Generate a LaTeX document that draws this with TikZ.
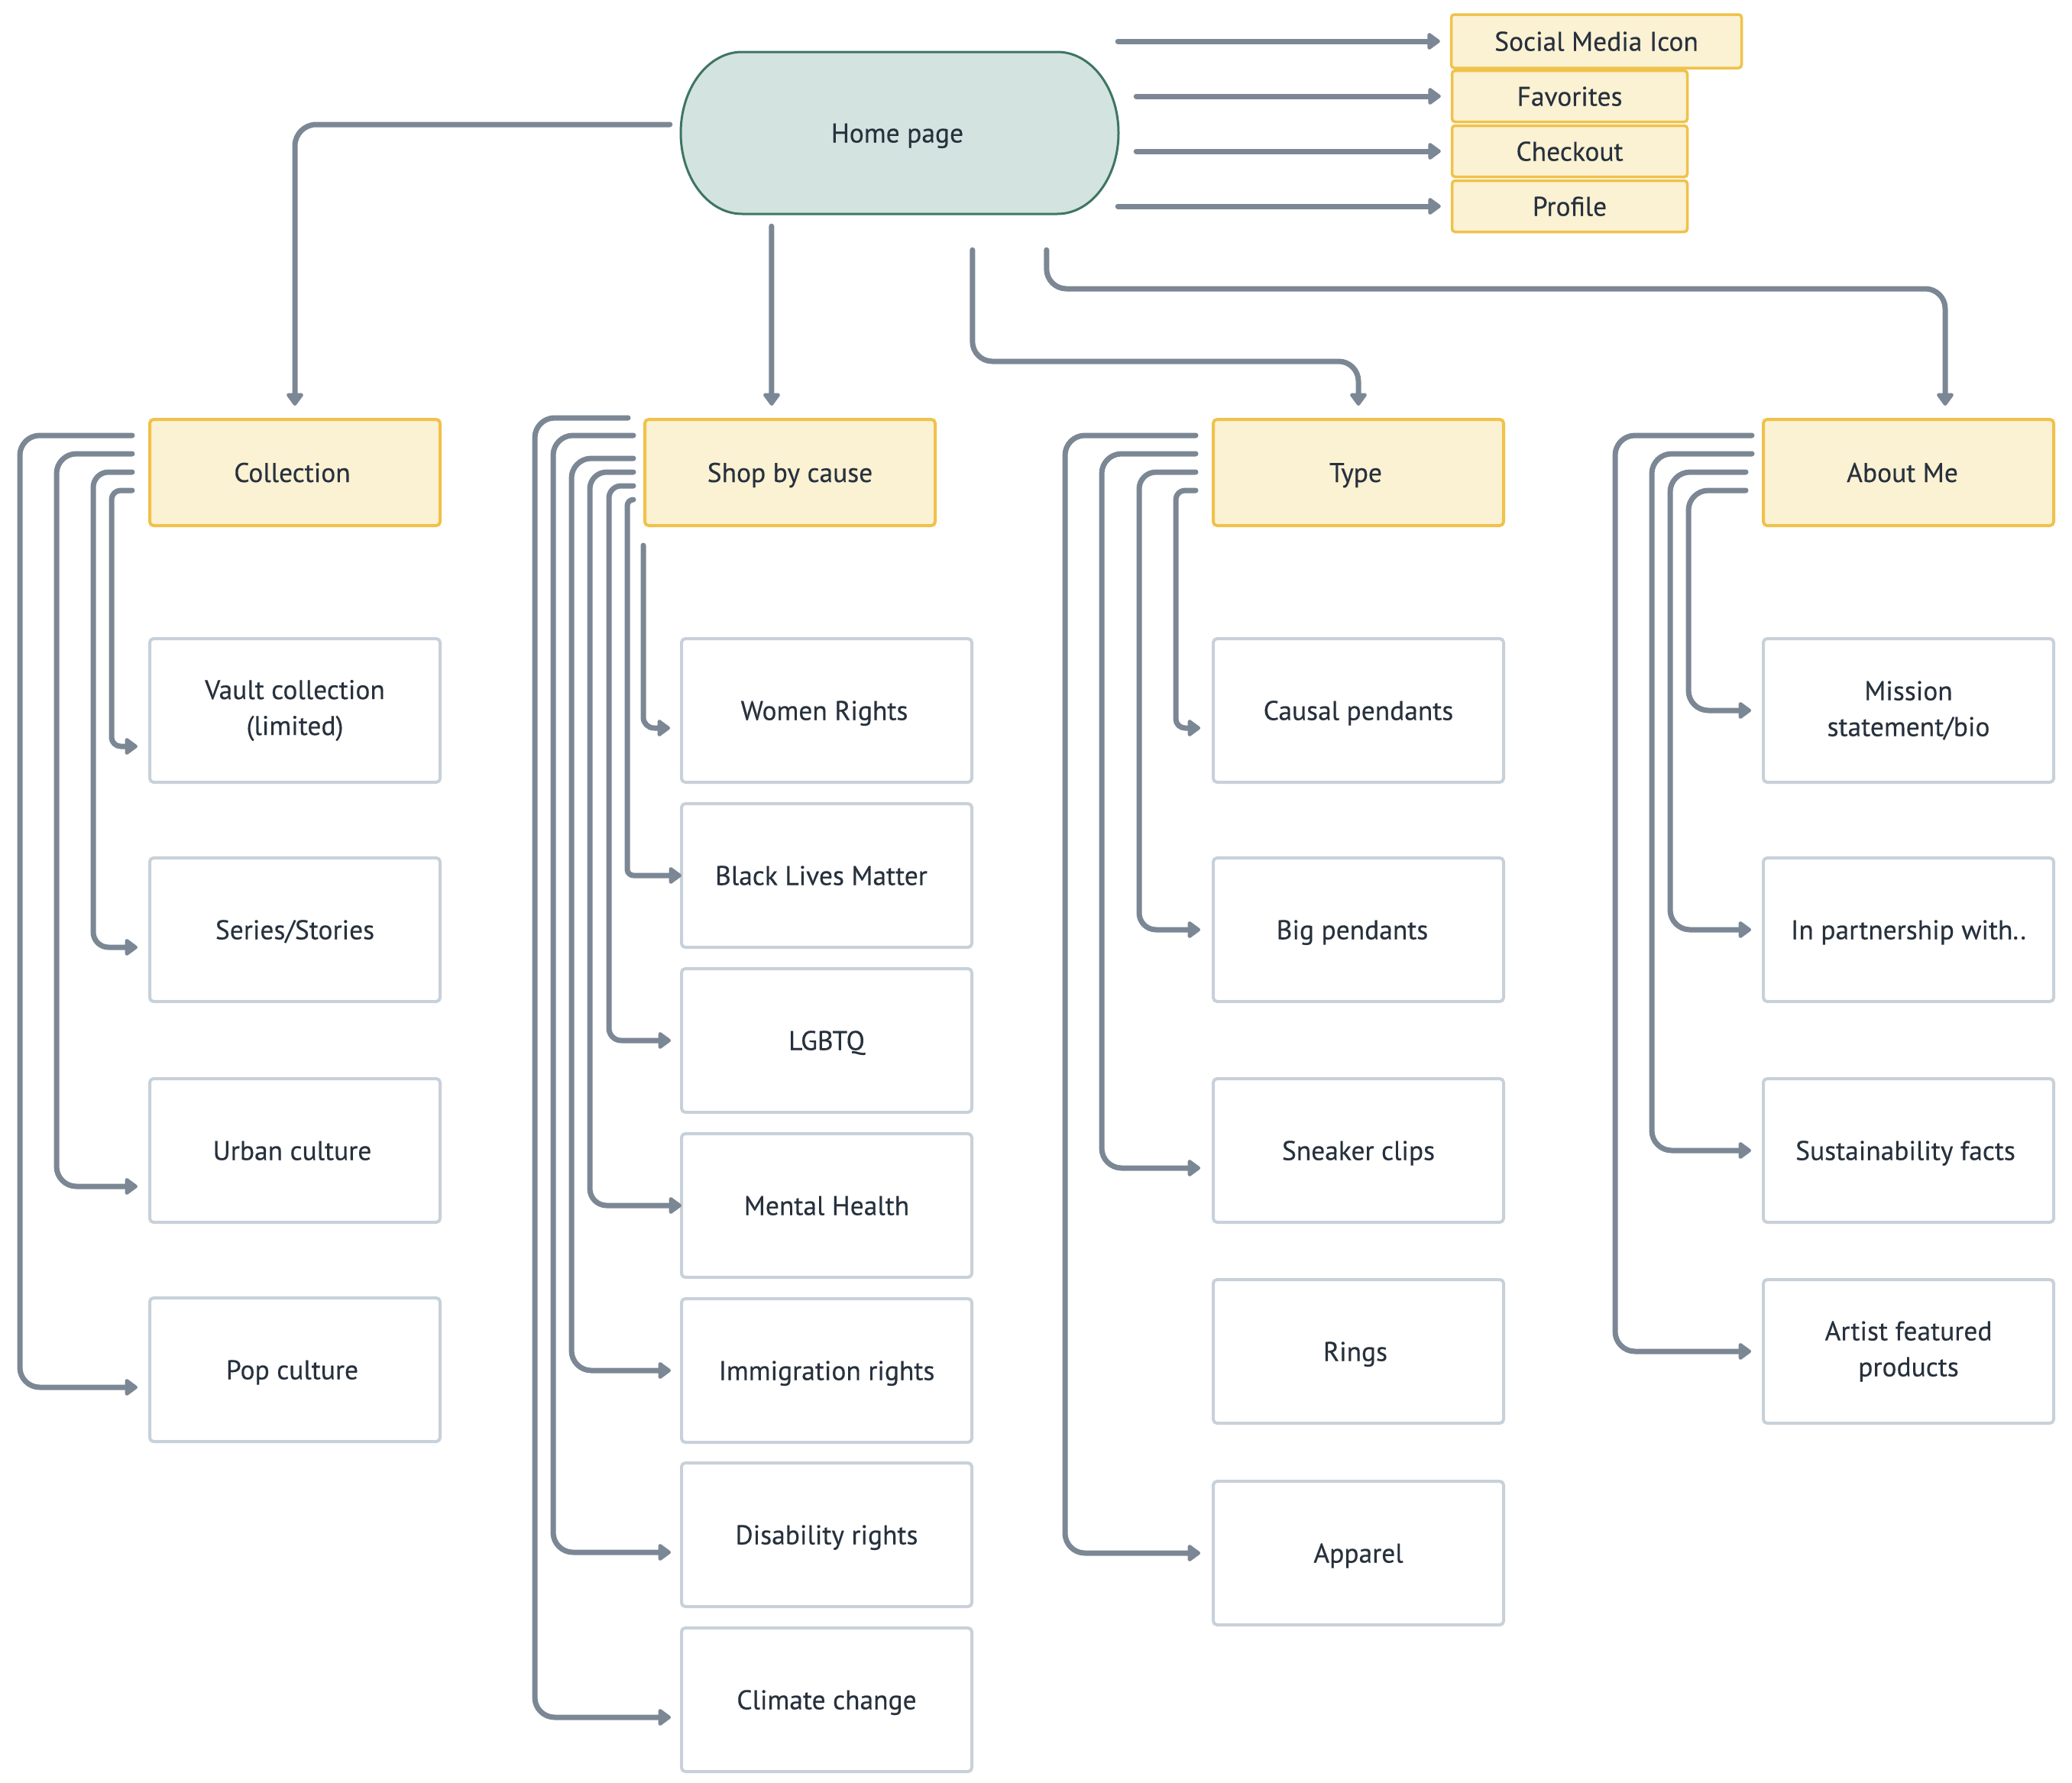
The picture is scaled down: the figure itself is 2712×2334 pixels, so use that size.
\documentclass[tikz,border=0pt]{standalone}
\usepackage{fontspec}
\setmainfont{PT Sans}[FakeBold=0.35]
\usetikzlibrary{arrows.meta,calc}
\definecolor{connc}{HTML}{7B8794}
\definecolor{yfill}{HTML}{FBF1D3}
\definecolor{ydraw}{HTML}{F0C24B}
\definecolor{gdraw}{HTML}{C8D1D9}
\definecolor{hfill}{HTML}{D3E3E0}
\definecolor{hdraw}{HTML}{3E7563}
\definecolor{txt}{HTML}{27313D}
\begin{document}
\begin{tikzpicture}[x=1pt,y=-1pt,
  every node/.style={font=\fontsize{35.5}{47}\selectfont, text=txt, align=center, inner sep=0pt},
  one/.style={text height=25pt, text depth=0pt},
  ybox/.style={one, draw=ydraw, fill=yfill, line width=4pt, rounded corners=5pt, minimum width=380pt, minimum height=139pt},
  tbox/.style={one, draw=ydraw, fill=yfill, line width=3.5pt, rounded corners=4pt, minimum height=67pt},
  gbox/.style={draw=gdraw, fill=white, line width=4pt, rounded corners=5pt, minimum width=380pt, minimum height=188pt},
  link/.style={draw=connc, line width=7pt, line cap=round, line join=round, rounded corners=26pt, -{Triangle[length=18pt,width=25pt,round]}},
  tight/.style={rounded corners=#1},
]
\useasboundingbox (0,0) rectangle (2712,2334);

% home page
\node[one, minimum width=577pt, minimum height=216pt] (home) at (1177.5,174) {};
\draw[draw=hdraw, fill=hfill, line width=3pt] (971,68) -- (1384,68)
  arc[start angle=90, end angle=-90, x radius=80pt, y radius=106pt] -- (971,280)
  arc[start angle=270, end angle=90, x radius=80pt, y radius=106pt] -- cycle;
\node[one] (hometext) at (home.center) {Home page\hspace{6pt}};

% top right boxes
\node[tbox, minimum width=380pt, minimum height=70pt] (social) at (2089.5,54) {Social Media Icon};
\node[tbox, minimum width=308pt] (fav) at (2054.5,126) {Favorites};
\node[tbox, minimum width=308pt] (check) at (2054.5,198) {Checkout};
\node[tbox, minimum width=308pt] (prof) at (2054.5,270) {Profile};

% headers
\node[ybox] (coll) at (386,618.5) {Collection\hspace{7pt}};
\node[ybox] (shop) at (1034,618.5) {Shop by cause};
\node[ybox] (type) at (1778,618.5) {Type\hspace{7pt}};
\node[ybox] (about) at (2498,618.5) {About Me\hspace{16pt}};

% column 1
\node[gbox] (vault) at (386,930) {Vault collection\hspace{6pt}\\(limited)\hspace{6pt}};
\node[gbox, one] (series) at (386,1217) {Series/Stories};
\node[gbox, one] (urban) at (386,1506) {Urban culture\hspace{7pt}};
\node[gbox, one] (pop) at (386,1793) {Pop culture\hspace{7pt}};

% column 2
\node[gbox, one] (women) at (1082,930) {Women Rights\hspace{6pt}};
\node[gbox, one] (black) at (1082,1146) {Black Lives Matter\hspace{14pt}};
\node[gbox, one] (lgbtq) at (1082,1362) {LGBTQ};
\node[gbox, one] (mental) at (1082,1578) {Mental Health};
\node[gbox, one] (immig) at (1082,1794) {Immigration rights};
\node[gbox, one] (disab) at (1082,2009) {Disability rights};
\node[gbox, one] (climate) at (1082,2225) {Climate change};

% column 3
\node[gbox, one] (causal) at (1778,930) {Causal pendants};
\node[gbox, one] (big) at (1778,1217) {Big pendants\hspace{16pt}};
\node[gbox, one] (sneaker) at (1778,1506) {Sneaker clips};
\node[gbox, one] (rings) at (1778,1769) {Rings\hspace{8pt}};
\node[gbox, one] (apparel) at (1778,2033) {Apparel};

% column 4
\node[gbox] (mission) at (2498,930) {Mission\hspace{10pt}\\statement/bio\hspace{10pt}};
\node[gbox, one] (partner) at (2498,1217) {In partnership with..};
\node[gbox, one] (sustain) at (2498,1506) {Sustainability facts\hspace{8pt}};
\node[gbox] (artist) at (2498,1769) {Artist featured\hspace{8pt}\\products\hspace{8pt}};

% home connectors
\draw[link, tight=28pt] ($(home.west)+(-12,-11)$) -| ($(coll.north)+(0,-16)$);
\draw[link] ($(home.south west)+(121,14)$) -- ($(shop.north)+(-24,-16)$);
\draw[link] ($(home.south west)+(384,45)$) |- ($(type.north)+(0,-74)$) -- ($(type.north)+(0,-16)$);
\draw[link] ($(home.south west)+(481,45)$) |- ($(about.north)+(48,-169)$) -- ($(about.north)+(48,-16)$);
\draw[link] (social.west -| {$(home.north east)+(-3,0)$}) -- ($(social.west)+(-13,0)$);
\draw[link] (fav.west -| {$(home.north east)+(21,0)$}) -- ($(fav.west)+(-13,0)$);
\draw[link] (check.west -| {$(home.north east)+(21,0)$}) -- ($(check.west)+(-13,0)$);
\draw[link] (prof.west -| {$(home.north east)+(-3,0)$}) -- ($(prof.west)+(-13,0)$);

% column 1 connectors
\draw[link] ($(coll.north west)+(-21,23)$) -| ($(pop.west)+(-168,23)$) -- ($(pop.west)+(-14,23)$);
\draw[link] ($(coll.north west)+(-21,47)$) -| ($(urban.west)+(-120,47)$) -- ($(urban.west)+(-14,47)$);
\draw[link, tight=20pt] ($(coll.north west)+(-21,71)$) -| ($(series.west)+(-72,23)$) -- ($(series.west)+(-14,23)$);
\draw[link, tight=12pt] ($(coll.north west)+(-21,95)$) -| ($(vault.west)+(-48,47)$) -- ($(vault.west)+(-14,47)$);

% column 2 connectors
\draw[link] ($(shop.north west)+(-20,0)$) -| ($(climate.west)+(-190,23)$) -- ($(climate.west)+(-12,23)$);
\draw[link] ($(shop.north west)+(-13,23)$) -| ($(disab.west)+(-166,23)$) -- ($(disab.west)+(-12,23)$);
\draw[link] ($(shop.north west)+(-13,53)$) -| ($(immig.west)+(-142,0)$) -- ($(immig.west)+(-12,0)$);
\draw[link, tight=22pt] ($(shop.north west)+(-13,71)$) -| ($(mental.west)+(-118,0)$) -- ($(mental.west)+(2,0)$);
\draw[link, tight=16pt] ($(shop.north west)+(-13,89)$) -| ($(lgbtq.west)+(-93,0)$) -- ($(lgbtq.west)+(-12,0)$);
\draw[link, tight=8pt] ($(shop.north west)+(-13,107)$) -| ($(black.west)+(-69,0)$) -- ($(black.west)+(2,0)$);
\draw[link, tight=14pt] ($(shop.south west)+(0,24)$) |- ($(women.west)+(-13,23)$);

% column 3 connectors
\draw[link] ($(type.north west)+(-21,23)$) -| ($(apparel.west)+(-192,0)$) -- ($(apparel.west)+(-15,0)$);
\draw[link] ($(type.north west)+(-21,47)$) -| ($(sneaker.west)+(-144,23)$) -- ($(sneaker.west)+(-15,23)$);
\draw[link, tight=22pt] ($(type.north west)+(-21,71)$) -| ($(big.west)+(-95,0)$) -- ($(big.west)+(-15,0)$);
\draw[link, tight=12pt] ($(type.north west)+(-21,95)$) -| ($(causal.west)+(-47,23)$) -- ($(causal.west)+(-15,23)$);

% column 4 connectors
\draw[link] ($(about.north west)+(-13,23)$) -| ($(artist.west)+(-192,0)$) -- ($(artist.west)+(-14,0)$);
\draw[link] ($(about.north west)+(-13,47)$) -| ($(sustain.west)+(-144,0)$) -- ($(sustain.west)+(-14,0)$);
\draw[link] ($(about.north west)+(-21,71)$) -| ($(partner.west)+(-120,0)$) -- ($(partner.west)+(-14,0)$);
\draw[link] ($(about.north west)+(-21,95)$) -| ($(mission.west)+(-96,0)$) -- ($(mission.west)+(-14,0)$);
\end{tikzpicture}
\end{document}
